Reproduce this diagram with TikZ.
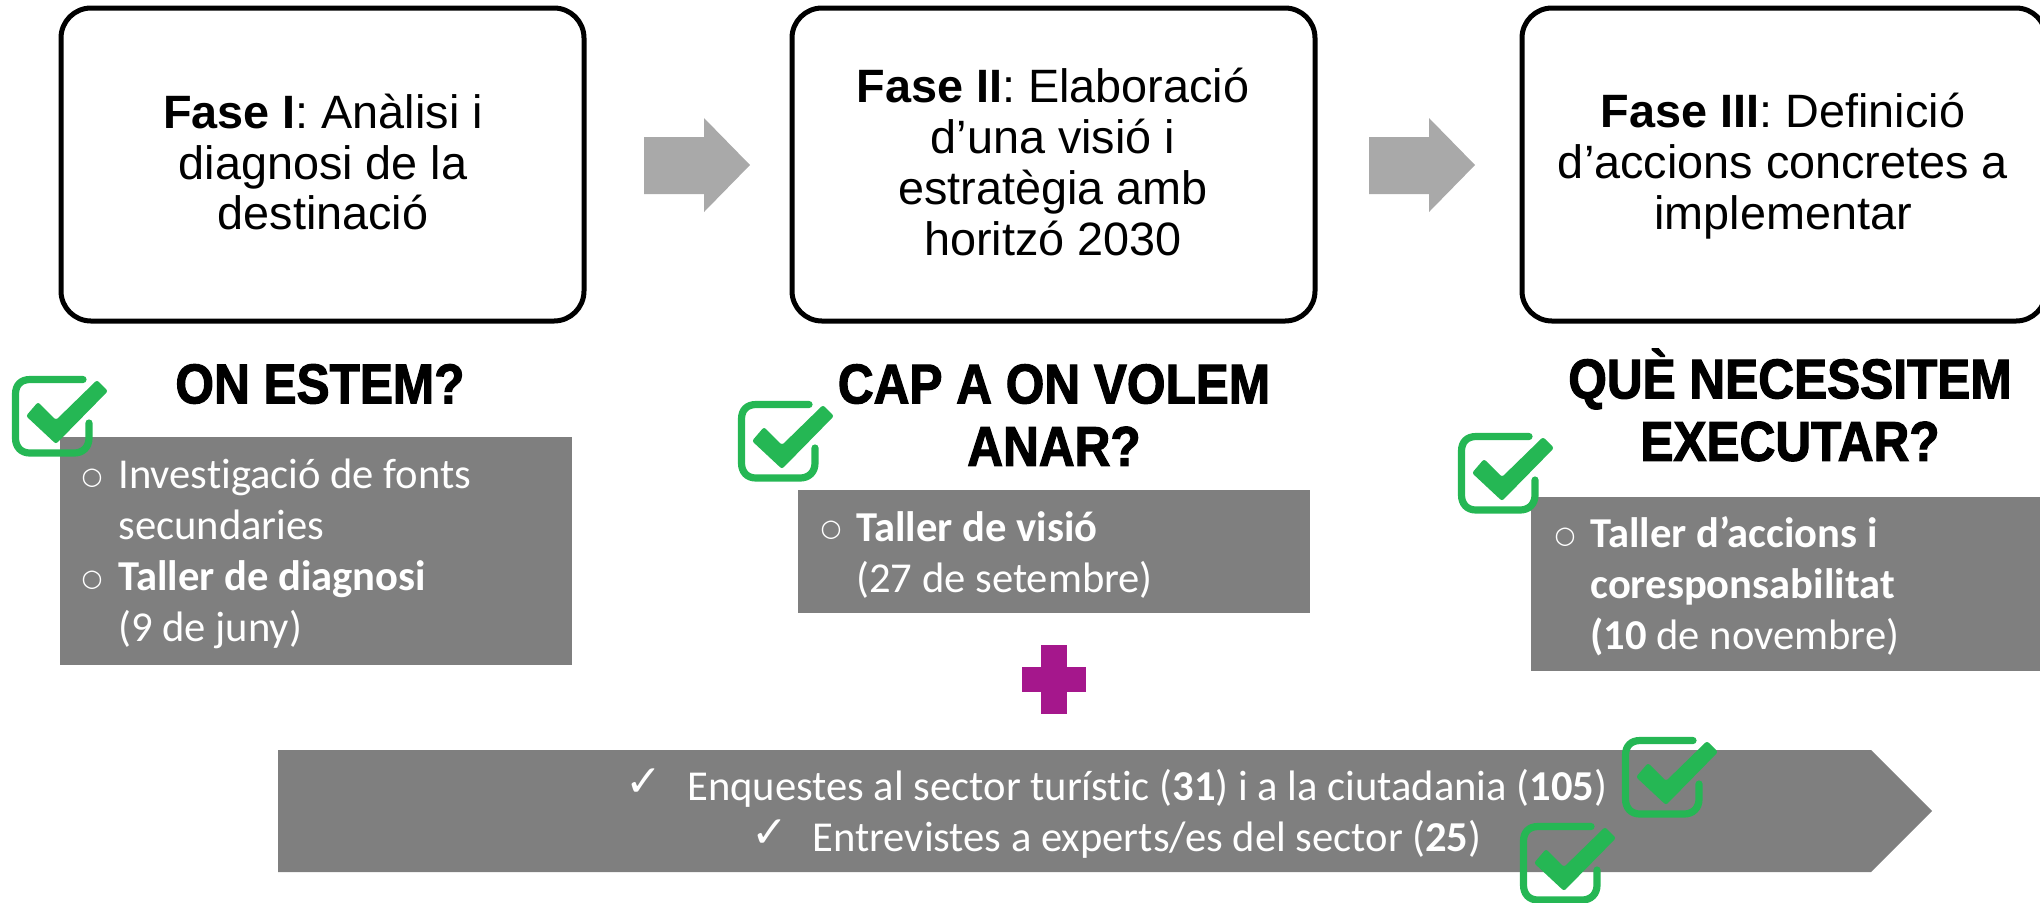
\documentclass[tikz,border=0pt]{standalone}
\usepackage{fontspec}
\setmainfont{Liberation Sans}
\newfontfamily\hdfont[FakeBold=2,FakeStretch=0.885]{Liberation Sans Bold}
\newfontfamily\calfont[Ligatures=NoCommon]{Carlito}
\newfontfamily\symfont{DejaVu Sans}
\definecolor{greybox}{HTML}{7F7F7F}
\definecolor{greyarrow}{HTML}{A9A9A9}
\definecolor{chkgreen}{HTML}{25B754}
\definecolor{plusmag}{HTML}{A5178C}
\tikzset{
  phasebox/.style={draw=black,line width=2.5pt,rounded corners=15pt,fill=white},
  phasetext/.style={inner sep=0pt,align=center,font=\fontsize{23.4}{25.4}\selectfont},
  heading/.style={inner sep=0pt,align=center,font=\hdfont\fontsize{28}{31.2}\selectfont},
  greyline/.style={inner sep=0pt,anchor=base west,text=white,font=\calfont\fontsize{21.3}{25}\selectfont},
  bullet/.style={inner sep=0pt,text=white,font=\symfont\fontsize{12}{12}\selectfont},
  tick/.style={inner sep=0pt,text=white,font=\symfont\fontsize{22}{22}\selectfont},
  arrowshape/.style={fill=greyarrow,draw=none},
}
\newcommand{\chkmark}[2]{%
  \begin{scope}[shift={(#1,#2)}]
    \draw[chkgreen,line width=3.6pt,line cap=round,line join=round]
      (71,3.5) -- (18,3.5) .. controls (9,3.5) and (3.5,9) .. (3.5,18)
      -- (3.5,62) .. controls (3.5,71) and (9,77) .. (18,77)
      -- (62,77) .. controls (71,77) and (77,71) .. (77,62) -- (77,47);
    \fill[chkgreen,rounded corners=1.2pt]
      (14,40) -- (26,26) -- (44,44) -- (85,4) -- (96,15) -- (44,68) -- cycle;
  \end{scope}}
\begin{document}
\begin{tikzpicture}[x=0.5pt,y=-0.5pt]
\useasboundingbox (0,0) rectangle (2040,902);
\clip (0,0) rectangle (2040,902);
% phase boxes
\draw[phasebox] (61,8) rectangle (584,321);
\draw[phasebox] (792,8) rectangle (1315,321);
\draw[phasebox] (1522,8) rectangle (2046,321);
\node[phasetext] (p1) at (323,162) {\textbf{Fase I}: Anàlisi i\\diagnosi de la\\destinació};
\node[phasetext] (p2) at (1053,162) {\textbf{Fase II}: Elaboració\\d’una visió i\\estratègia amb\\horitzó 2030};
\node[phasetext] (p3) at (1783,166) {\textbf{Fase III}: Definició\\d’accions concretes a\\implementar};
% block arrows
\fill[arrowshape] (644,137) -- (704,137) -- (704,118) -- (750,165) -- (704,212) -- (704,194) -- (644,194) -- cycle;
\fill[arrowshape] (1369,137) -- (1429,137) -- (1429,118) -- (1475,165) -- (1429,212) -- (1429,194) -- (1369,194) -- cycle;
% headings
\node[heading] (h1) at (320,384) {ON ESTEM?};
\node[heading] (h2) at (1054,415) {CAP A ON VOLEM\\ANAR?};
\node[heading] (h3) at (1790,405) {QUÈ NECESSITEM\\EXECUTAR?};
% grey rectangles
\fill[greybox] (60,437) rectangle (572,665);
\fill[greybox] (798,490) rectangle (1310,613);
\fill[greybox] (1531,497) rectangle (2040,671);
% bottom pentagon
\fill[greybox] (278,750) -- (1871,750) -- (1932,811) -- (1871,872) -- (278,872) -- cycle;
% plus
\fill[plusmag] (1022,645) rectangle (1086,714);
\fill[white] (1022,645) rectangle (1041,667);
\fill[white] (1067,645) rectangle (1086,667);
\fill[white] (1022,692) rectangle (1041,714);
\fill[white] (1067,692) rectangle (1086,714);
% checks under text
\chkmark{12}{376}
\chkmark{738}{401}
\chkmark{1458}{433}
\chkmark{1622}{737}
\chkmark{1520}{823}
% box 1 text
\node[bullet] (b1a) at (92,478) {○};
\node[greyline] (t1a) at (118,488) {Investigació de fonts};
\node[greyline] (t1b) at (118,539) {secundaries};
\node[bullet] (b1b) at (92,580) {○};
\node[greyline] (t1c) at (118,590) {\textbf{Taller de diagnosi}};
\node[greyline] (t1d) at (118,641) {(9 de juny)};
% box 2 text
\node[bullet] (b2a) at (831,530) {○};
\node[greyline] (t2a) at (856,541) {\textbf{Taller de visió}};
\node[greyline] (t2b) at (856,592) {(27 de setembre)};
% box 3 text
\node[bullet] (b3a) at (1565,537) {○};
\node[greyline] (t3a) at (1590,547) {\textbf{Taller d’accions i}};
\node[greyline] (t3b) at (1590,598) {\textbf{coresponsabilitat}};
\node[greyline] (t3c) at (1590,649) {\textbf{(10} de novembre)};
% bottom text
\node[tick] (k1) at (644,783) {✓};
\node[greyline] (u1) at (687,800) {Enquestes al sector turístic (\textbf{31}) i a la ciutadania (\textbf{105})};
\node[tick] (k2) at (770,834) {✓};
\node[greyline] (u2) at (812,851) {Entrevistes a experts/es del sector (\textbf{25})};
\end{tikzpicture}
\end{document}
